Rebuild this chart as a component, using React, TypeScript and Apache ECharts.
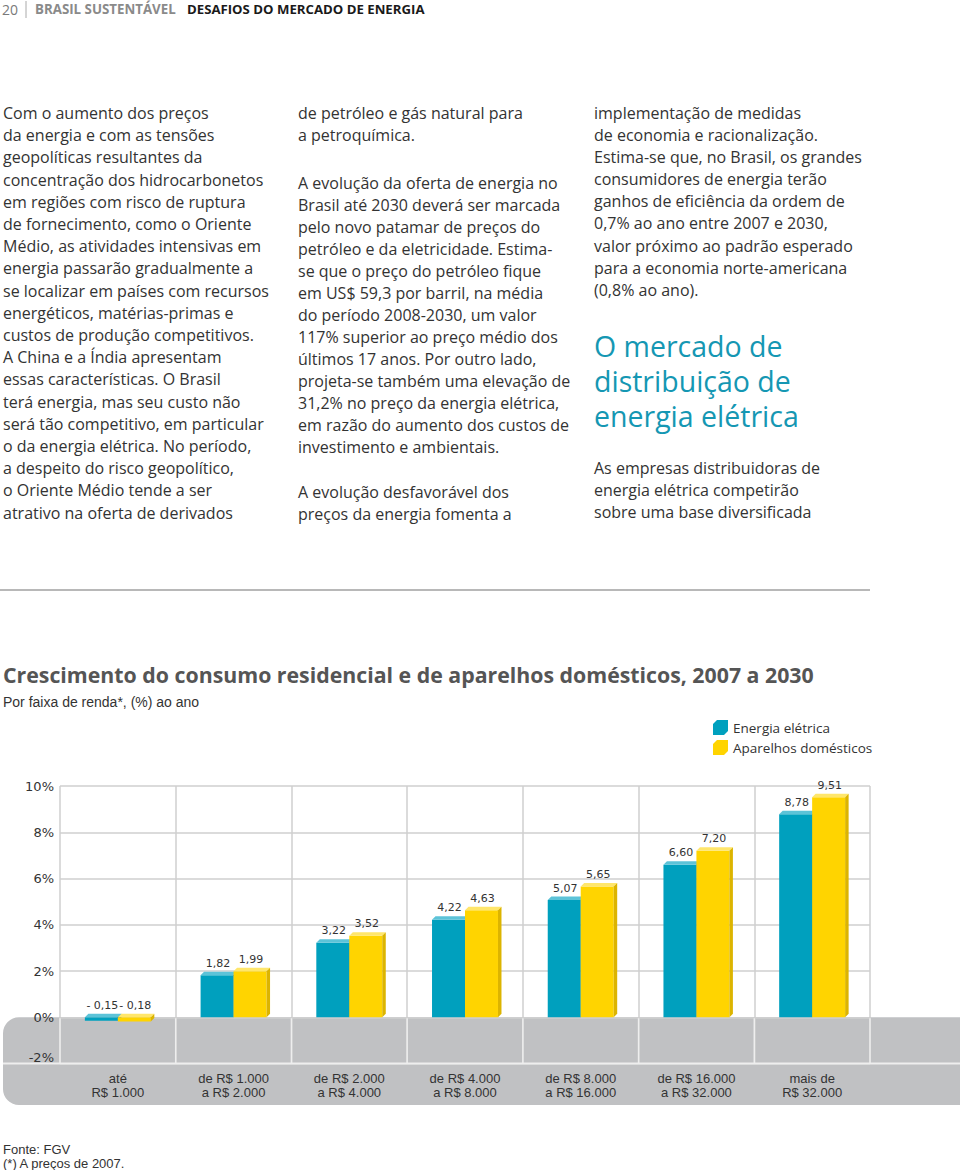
import React, { useEffect, useRef } from "react";
import * as echarts from "echarts";

// ---------- data ----------
const CATEGORIES = [
  "até\nR$ 1.000",
  "de R$ 1.000\na R$ 2.000",
  "de R$ 2.000\na R$ 4.000",
  "de R$ 4.000\na R$ 8.000",
  "de R$ 8.000\na R$ 16.000",
  "de R$ 16.000\na R$ 32.000",
  "mais de\nR$ 32.000",
];
const SERIES_NAMES = ["Energia elétrica", "Aparelhos domésticos"];
const ENERGIA_ELETRICA = [-0.15, 1.82, 3.22, 4.22, 5.07, 6.6, 8.78];
const APARELHOS_DOMESTICOS = [-0.18, 1.99, 3.52, 4.63, 5.65, 7.2, 9.51];
const Y_MIN = -2;
const Y_MAX = 10;
const Y_INTERVAL = 2;

const TITLE = "Crescimento do consumo residencial e de aparelhos domésticos, 2007 a 2030";
const SUBTITLE = "Por faixa de renda*, (%) ao ano";
const FOOTNOTES = ["Fonte: FGV", "(*) A preços de 2007."];

const HEADER_NUM = "20";
const HEADER_SECTION = "BRASIL SUSTENTÁVEL";
const HEADER_TITLE = "DESAFIOS DO MERCADO DE ENERGIA";

const COL1 = [
  "Com o aumento dos preços",
  "da energia e com as tensões",
  "geopolíticas resultantes da",
  "concentração dos hidrocarbonetos",
  "em regiões com risco de ruptura",
  "de fornecimento, como o Oriente",
  "Médio, as atividades intensivas em",
  "energia passarão gradualmente a",
  "se localizar em países com recursos",
  "energéticos, matérias-primas e",
  "custos de produção competitivos.",
  "A China e a Índia apresentam",
  "essas características. O Brasil",
  "terá energia, mas seu custo não",
  "será tão competitivo, em particular",
  "o da energia elétrica. No período,",
  "a despeito do risco geopolítico,",
  "o Oriente Médio tende a ser",
  "atrativo na oferta de derivados",
];
const COL2_P1 = ["de petróleo e gás natural para", "a petroquímica."];
const COL2_P2 = [
  "A evolução da oferta de energia no",
  "Brasil até 2030 deverá ser marcada",
  "pelo novo patamar de preços do",
  "petróleo e da eletricidade. Estima-",
  "se que o preço do petróleo fique",
  "em US$ 59,3 por barril, na média",
  "do período 2008-2030, um valor",
  "117% superior ao preço médio dos",
  "últimos 17 anos. Por outro lado,",
  "projeta-se também uma elevação de",
  "31,2% no preço da energia elétrica,",
  "em razão do aumento dos custos de",
  "investimento e ambientais.",
];
const COL2_P3 = ["A evolução desfavorável dos", "preços da energia fomenta a"];
const COL3_P1 = [
  "implementação de medidas",
  "de economia e racionalização.",
  "Estima-se que, no Brasil, os grandes",
  "consumidores de energia terão",
  "ganhos de eficiência da ordem de",
  "0,7% ao ano entre 2007 e 2030,",
  "valor próximo ao padrão esperado",
  "para a economia norte-americana",
  "(0,8% ao ano).",
];
const COL3_HEAD = ["O mercado de", "distribuição de", "energia elétrica"];
const COL3_P2 = [
  "As empresas distribuidoras de",
  "energia elétrica competirão",
  "sobre uma base diversificada",
];

// ---------- style ----------
const BODY_FONT = "'Open Sans', 'Noto Sans', sans-serif";
const NARROW_FONT = "'Liberation Sans Narrow', 'Liberation Sans', sans-serif";
const NUM_FONT = "'DejaVu Sans', Verdana, sans-serif";
const TEXT = "#333333";
const BLUE = { front: "#00a0be", top: "#5cc3d8", side: "#00809a" };
const YELLOW = { front: "#ffd400", top: "#ffe66b", side: "#dcb400" };
const COLORS = [BLUE, YELLOW];
const GRID = { left: 60, right: 90, top: 786, bottom: 106.5 };
const BAND_BOTTOM = 1105;
const CUBE = "path://M0,4 L4,0 L15,0 L15,11 L11,15 L0,15 Z";

const fmt = (v: number) =>
  v < 0 ? "- " + Math.abs(v).toFixed(2).replace(".", ",") : v.toFixed(2).replace(".", ",");

function makeRenderItem(seriesIdx: number) {
  const c = COLORS[seriesIdx];
  return (params: any, api: any) => {
    const ci = api.value(0);
    const v = api.value(1);
    const pTop = api.coord([ci, v]);
    const pBase = api.coord([ci, 0]);
    const band = api.size([1, 0])[0];
    const w = band * 0.285;
    const d = 3.5;
    const left = pTop[0] - w + seriesIdx * w;
    const yTop = Math.min(pTop[1], pBase[1]);
    const yBot = Math.max(pTop[1], pBase[1]);
    return {
      type: "group",
      children: [
        {
          type: "rect",
          shape: { x: left, y: yTop, width: w, height: yBot - yTop },
          style: { fill: c.front },
        },
        {
          type: "polygon",
          shape: {
            points: [
              [left, yTop],
              [left + w, yTop],
              [left + w + d, yTop - d],
              [left + d, yTop - d],
            ],
          },
          style: { fill: c.top },
        },
        {
          type: "polygon",
          shape: {
            points: [
              [left + w, yTop],
              [left + w + d, yTop - d],
              [left + w + d, yBot - d],
              [left + w, yBot],
            ],
          },
          style: { fill: c.side },
        },
        {
          type: "text",
          x: left + w / 2 + 1,
          y: yTop - d - 3,
          style: {
            text: fmt(v),
            align: "center",
            verticalAlign: "bottom",
            fill: TEXT,
            fontSize: 11,
            fontFamily: NUM_FONT,
          },
        },
      ],
    };
  };
}

function textBlock(lines: string[], x: number, firstCenter: number, lh: number, extra: any = {}) {
  return {
    type: "text",
    x,
    y: firstCenter - lh / 2,
    silent: true,
    style: {
      text: lines.join("\n"),
      fill: TEXT,
      fontSize: 16,
      fontFamily: BODY_FONT,
      lineHeight: lh,
      verticalAlign: "top",
      align: "left",
      ...extra,
    },
  };
}

export default function App() {
  const ref = useRef<HTMLDivElement>(null);
  useEffect(() => {
    if (!ref.current) return;
    const chart = echarts.init(ref.current, null, { renderer: "svg" });

    const plotW = 960 - GRID.left - GRID.right;
    const n = CATEGORIES.length;
    const zeroY = 1170 - GRID.bottom - ((0 - Y_MIN) / (Y_MAX - Y_MIN)) * (1170 - GRID.top - GRID.bottom);
    const sepY = 1170 - GRID.bottom;
    const whiteLines: any[] = [];
    for (let i = 0; i <= n; i++) {
      const x = GRID.left + (plotW * i) / n;
      whiteLines.push({
        type: "line",
        z: 1,
        silent: true,
        shape: { x1: x, y1: zeroY + 1, x2: x, y2: sepY },
        style: { stroke: "#eeeeee", lineWidth: 1.5 },
      });
    }

    const graphic: any[] = [
      // header
      {
        type: "text",
        x: 2,
        y: 9,
        style: { text: HEADER_NUM, fill: "#7a7a7a", fontSize: 14, fontFamily: BODY_FONT, verticalAlign: "middle" },
      },
      {
        type: "line",
        shape: { x1: 26, y1: 1, x2: 26, y2: 18 },
        style: { stroke: "#aaaaaa", lineWidth: 1 },
      },
      {
        type: "text",
        x: 35,
        y: 9,
        style: {
          text: HEADER_SECTION,
          fill: "#8a8a8a",
          fontSize: 13.3,
          fontWeight: "bold",
          fontFamily: BODY_FONT,
          verticalAlign: "middle",
        },
      },
      {
        type: "text",
        x: 187,
        y: 9,
        style: {
          text: HEADER_TITLE,
          fill: "#1a1a1a",
          fontSize: 13.2,
          fontWeight: "bold",
          fontFamily: BODY_FONT,
          verticalAlign: "middle",
        },
      },
      // columns
      textBlock(COL1, 3, 113, 22.2),
      textBlock(COL2_P1, 298, 113, 22),
      textBlock(COL2_P2, 298, 183, 22),
      textBlock(COL2_P3, 298, 492, 22),
      textBlock(COL3_P1, 594, 113, 22.1),
      textBlock(COL3_HEAD, 594, 346, 35, { fontSize: 28.5, fill: "#1597b3" }),
      textBlock(COL3_P2, 594, 468, 22),
      // rule
      {
        type: "line",
        shape: { x1: 0, y1: 590, x2: 870, y2: 590 },
        style: { stroke: "#a0a0a0", lineWidth: 1.5 },
      },
      // grey band
      {
        type: "rect",
        z: -10,
        silent: true,
        shape: { x: 3, y: zeroY, width: 1000, height: BAND_BOTTOM - zeroY, r: [16, 0, 0, 16] },
        style: { fill: "#c0c1c3" },
      },
      ...whiteLines,
      {
        type: "line",
        z: 1,
        silent: true,
        shape: { x1: 3, y1: sepY, x2: 960, y2: sepY },
        style: { stroke: "#eeeeee", lineWidth: 2 },
      },
      // footnotes
      textBlock(FOOTNOTES, 3, 1149, 14, { fontSize: 13, fontFamily: NARROW_FONT }),
    ];

    chart.setOption({
      animation: false,
      backgroundColor: "#ffffff",
      title: {
        text: TITLE,
        subtext: SUBTITLE,
        left: 0,
        top: 662,
        padding: [0, 3],
        itemGap: 8,
        textStyle: {
          fontSize: 21.3,
          fontWeight: "bold",
          color: "#555555",
          fontFamily: BODY_FONT,
          lineHeight: 24,
        },
        subtextStyle: { fontSize: 14, color: TEXT, fontFamily: NARROW_FONT, lineHeight: 16 },
      },
      legend: {
        orient: "vertical",
        left: 708,
        top: 715,
        itemWidth: 15,
        itemHeight: 15,
        itemGap: 5,
        textStyle: { fontSize: 13.5, color: TEXT, fontFamily: BODY_FONT },
        data: SERIES_NAMES.map((name) => ({ name, icon: CUBE })),
      },
      grid: { left: GRID.left, right: GRID.right, top: GRID.top, bottom: GRID.bottom, containLabel: false },
      xAxis: {
        type: "category",
        data: CATEGORIES,
        axisLine: { show: false },
        axisTick: { show: false },
        splitLine: { show: true, interval: 0, lineStyle: { color: "#cfcfcf", width: 1.5 } },
        axisLabel: {
          interval: 0,
          color: TEXT,
          fontSize: 13,
          fontFamily: NARROW_FONT,
          lineHeight: 14,
          margin: 8,
        },
      },
      yAxis: {
        type: "value",
        min: Y_MIN,
        max: Y_MAX,
        interval: Y_INTERVAL,
        axisLine: { show: false },
        axisTick: { show: false },
        splitLine: { show: true, lineStyle: { color: "#cfcfcf", width: 1.5 } },
        axisLabel: {
          formatter: "{value}%",
          color: TEXT,
          fontSize: 13,
          fontFamily: NUM_FONT,
          margin: 6,
          verticalAlignMinLabel: "bottom",
        },
      },
      graphic,
      series: [ENERGIA_ELETRICA, APARELHOS_DOMESTICOS].map((vals, si) => ({
        name: SERIES_NAMES[si],
        type: "custom",
        coordinateSystem: "cartesian2d",
        itemStyle: { color: COLORS[si].front },
        encode: { x: 0, y: 1 },
        data: vals.map((v, i) => [i, v]),
        renderItem: makeRenderItem(si),
        z: 3 + si,
      })),
    });

    return () => chart.dispose();
  }, []);

  return (
    <div
      ref={ref}
      style={{ position: "absolute", left: 0, top: 0, width: 960, height: 1170, background: "#fff" }}
    />
  );
}
